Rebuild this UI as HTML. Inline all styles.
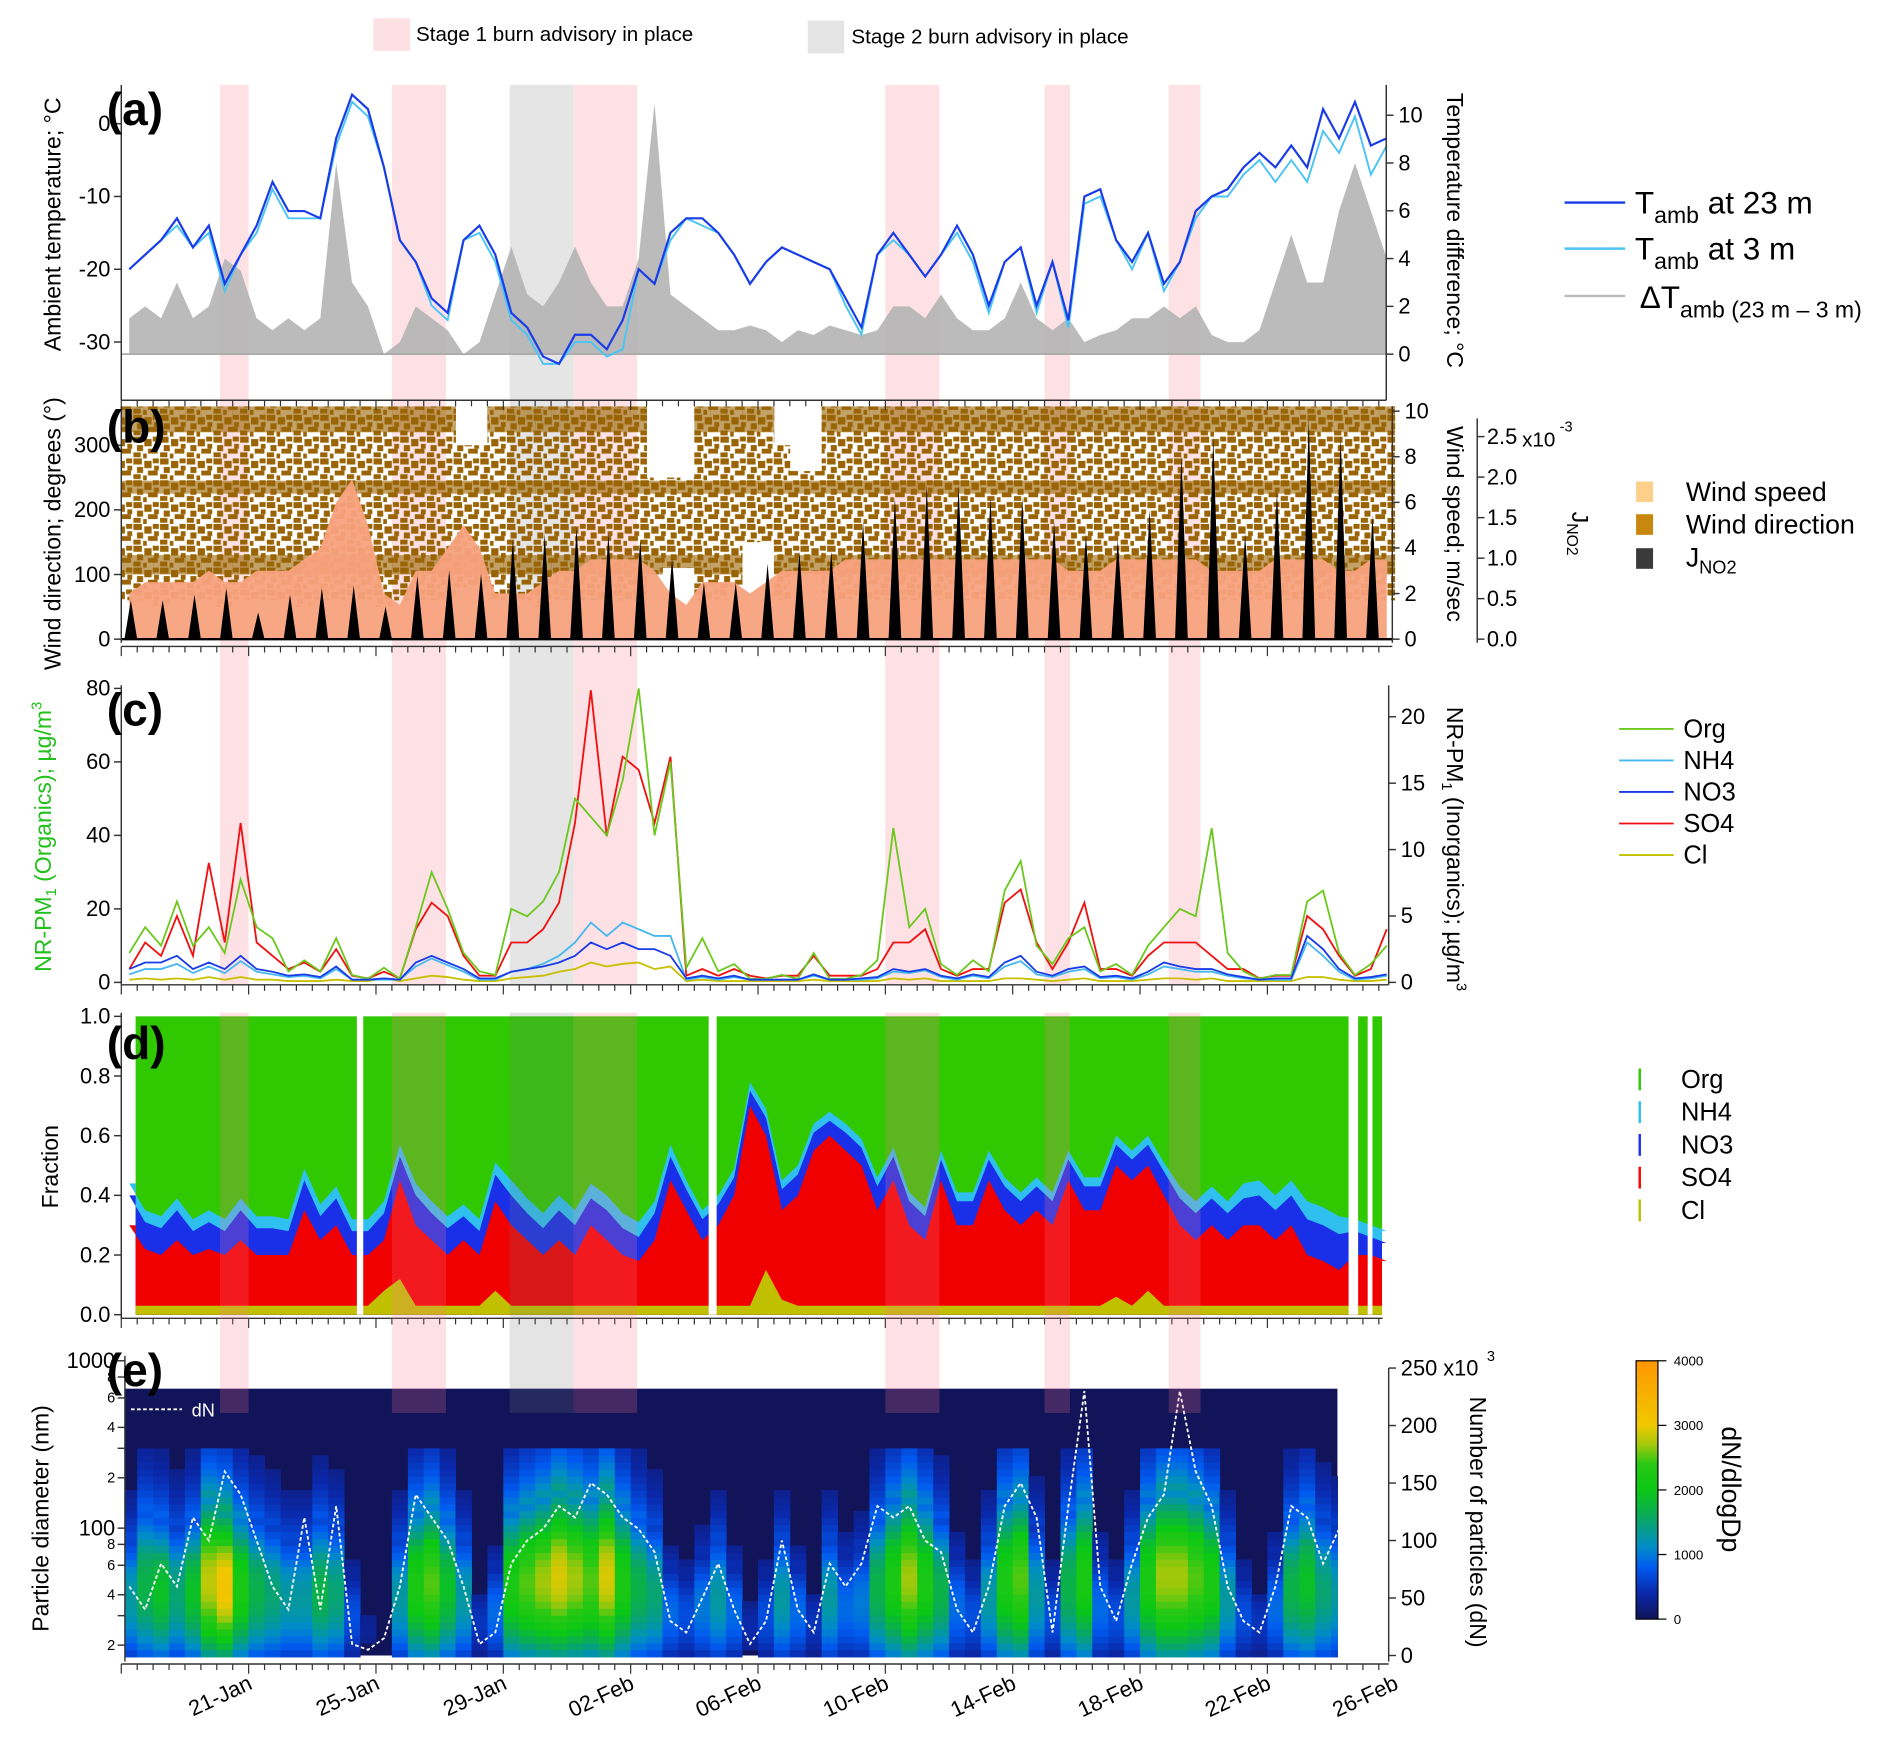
<!DOCTYPE html>
<html><head><meta charset="utf-8"><style>
html,body{margin:0;padding:0;background:#fff;}
svg{display:block;font-family:"Liberation Sans",sans-serif;}
</style></head><body>
<svg id="chart" width="1892" height="1741" viewBox="0 0 1560 1435.5" preserveAspectRatio="none" xmlns="http://www.w3.org/2000/svg">
<defs>
<pattern id="wdpat" width="22" height="18" patternUnits="userSpaceOnUse">
<rect x="0" y="0" width="7" height="5" fill="#9a6404"/>
<rect x="9" y="2" width="6" height="6" fill="#9a6404"/>
<rect x="16" y="0" width="5" height="4" fill="#9a6404"/>
<rect x="3" y="7" width="5" height="5" fill="#9a6404"/>
<rect x="12" y="10" width="8" height="4" fill="#9a6404"/>
<rect x="0" y="13" width="6" height="4" fill="#9a6404"/>
<rect x="17" y="6" width="4" height="4" fill="#9a6404"/>
<rect x="8" y="14" width="3" height="4" fill="#9a6404"/>
</pattern>
</defs>
<g>
<rect x="308" y="15" width="30" height="27" fill="#fde0e3"/>
<text x="343" y="34" font-size="17">Stage 1 burn advisory in place</text>
<rect x="666" y="17" width="30" height="27" fill="#e4e4e4"/>
<text x="702" y="36" font-size="17">Stage 2 burn advisory in place</text>
</g>
<g id="bgBands"></g>
<g id="pa"></g>
<g id="pb"></g>
<g id="pc"></g>
<g id="pd"></g>
<g id="pe"></g>
<g id="axes"></g>
<g font-size="19">
<text transform="translate(50,185) rotate(-90)" text-anchor="middle">Ambient temperature; °C</text>
<text transform="translate(1193,190) rotate(90)" text-anchor="middle">Temperature difference; °C</text>
<text transform="translate(50,440) rotate(-90)" text-anchor="middle">Wind direction; degrees (°)</text>
<text transform="translate(1193,432) rotate(90)" text-anchor="middle">Wind speed; m/sec</text>
<text transform="translate(1296,440) rotate(90)" text-anchor="middle">J<tspan font-size="13" dy="4">NO2</tspan></text>
<text transform="translate(42,690) rotate(-90)" text-anchor="middle" fill="#22c01a">NR-PM<tspan font-size="12" dy="4">1</tspan><tspan dy="-4"> (Organics); µg/m</tspan><tspan font-size="12" dy="-8">3</tspan></text>
<text transform="translate(1193,700) rotate(90)" text-anchor="middle">NR-PM<tspan font-size="12" dy="4">1</tspan><tspan dy="-4"> (Inorganics); µg/m</tspan><tspan font-size="12" dy="-8">3</tspan></text>
<text transform="translate(48,962) rotate(-90)" text-anchor="middle">Fraction</text>
<text transform="translate(40,1252) rotate(-90)" text-anchor="middle">Particle diameter (nm)</text>
<text transform="translate(1212,1255) rotate(90)" text-anchor="middle">Number of particles (dN)</text>
<text transform="translate(1420,1228) rotate(90)" text-anchor="middle" font-size="22">dN/dlogDp</text>
</g>
<g font-size="38" font-weight="bold">
<text x="88" y="103">(a)</text>
<text x="88" y="365">(b)</text>
<text x="88" y="598">(c)</text>
<text x="88" y="873">(d)</text>
<text x="88" y="1143">(e)</text>
</g>
<g font-size="26">
<line x1="1290" y1="167" x2="1340" y2="167" stroke="#1a3ce8" stroke-width="2"/>
<text x="1348" y="176">T<tspan font-size="19" dy="8">amb</tspan><tspan dy="-8"> at 23 m</tspan></text>
<line x1="1290" y1="205" x2="1340" y2="205" stroke="#4cc4f4" stroke-width="2"/>
<text x="1348" y="214">T<tspan font-size="19" dy="8">amb</tspan><tspan dy="-8"> at 3 m</tspan></text>
<line x1="1290" y1="244" x2="1340" y2="244" stroke="#bbb" stroke-width="2"/>
<text x="1352" y="254">ΔT<tspan font-size="19" dy="8">amb (23 m – 3 m)</tspan></text>
</g>
<g font-size="22">
<rect x="1349" y="397" width="14" height="17" fill="#fcd08a"/>
<text x="1390" y="413">Wind speed</text>
<rect x="1349" y="424" width="14" height="17" fill="#c8870e"/>
<text x="1390" y="440">Wind direction</text>
<rect x="1349" y="452" width="14" height="17" fill="#3a3a3a"/>
<text x="1390" y="467">J<tspan font-size="15" dy="6">NO2</tspan></text>
</g>
<g font-size="21">
<line x1="1335" y1="601" x2="1380" y2="601" stroke="#6cc81e" stroke-width="1.5"/><text x="1388" y="608">Org</text>
<line x1="1335" y1="627" x2="1380" y2="627" stroke="#46b8f0" stroke-width="1.5"/><text x="1388" y="634">NH4</text>
<line x1="1335" y1="653" x2="1380" y2="653" stroke="#1a3ce8" stroke-width="1.5"/><text x="1388" y="660">NO3</text>
<line x1="1335" y1="679" x2="1380" y2="679" stroke="#f01010" stroke-width="1.5"/><text x="1388" y="686">SO4</text>
<line x1="1335" y1="705" x2="1380" y2="705" stroke="#c0c000" stroke-width="1.5"/><text x="1388" y="712">Cl</text>
</g>
<g font-size="21">
<rect x="1351" y="881" width="2" height="18" fill="#30c800"/><text x="1386" y="897">Org</text>
<rect x="1351" y="908" width="2" height="18" fill="#30c0f0"/><text x="1386" y="924">NH4</text>
<rect x="1351" y="935" width="2" height="18" fill="#1a30e8"/><text x="1386" y="951">NO3</text>
<rect x="1351" y="962" width="2" height="18" fill="#f00"/><text x="1386" y="978">SO4</text>
<rect x="1351" y="989" width="2" height="18" fill="#c0c000"/><text x="1386" y="1005">Cl</text>
</g>
<g id="cbar"></g>
<g id="fgBands"></g>
</svg>
<script>
// ---- data (time index i -> day i*0.5 since 17-Jan) ----
const stage1Bands=[[3.1,4.0],[8.5,10.2],[14.2,16.2],[24.0,25.7],[29.0,29.8],[32.9,33.9]];
const stage2Bands=[[12.2,14.2]];
const dateLabels=["21-Jan","25-Jan","29-Jan","02-Feb","06-Feb","10-Feb","14-Feb","18-Feb","22-Feb","26-Feb"];
const dateDays=[4,8,12,16,20,24,28,32,36,40];
const T23=[-20,-18,-16,-13,-17,-14,-22,-18,-14,-8,-12,-12,-13,-2,4,2,-6,-16,-19,-24,-26,-16,-14,-18,-26,-28,-32,-33,-29,-29,-31,-27,-20,-22,-15,-13,-13,-15,-18,-22,-19,-17,-18,-19,-20,-24,-28,-18,-15,-18,-21,-18,-14,-18,-25,-19,-17,-25,-19,-27,-10,-9,-16,-19,-15,-22,-19,-12,-10,-9,-6,-4,-6,-3,-6,2,-2,3,-3,-2];
const T3=[-20,-18,-16,-14,-17,-15,-23,-18,-15,-9,-13,-13,-13,-3,3,1,-6,-16,-19,-25,-27,-16,-15,-19,-27,-29,-33,-33,-30,-30,-32,-31,-20,-22,-16,-13,-14,-15,-18,-22,-19,-17,-18,-19,-20,-25,-29,-18,-16,-18,-21,-18,-15,-19,-26,-19,-17,-26,-19,-28,-11,-10,-16,-20,-15,-23,-19,-13,-10,-10,-7,-5,-8,-5,-8,-1,-4,1,-7,-3];
const DT=[1.5,2,1.5,3,1.5,2,4,3.5,1.5,1,1.5,1,1.5,8,3,2,0,0.5,2,1.5,1,0,0.5,2.5,4.5,2.5,2,3,4.5,3,2,2,4,10.5,2.5,2,1.5,1,1,1.2,1,0.5,1,0.8,1.2,1,0.8,1,2,2,1.5,2.5,1.5,1,1,1.5,3,1.5,1,1.5,0.5,0.8,1,1.5,1.5,2,1.5,2,0.8,0.5,0.5,1,3,5,3,3,6,8,6,4];
const WDlo=[60,60,50,60,60,60,50,60,60,60,60,50,60,60,60,60,50,60,60,60,60,80,80,60,60,60,50,60,60,60,60,60,60,100,110,110,60,60,80,150,150,60,100,100,60,60,60,60,60,60,60,60,60,60,60,60,60,60,60,60,60,60,60,60,60,60,60,60,60,60,60,60,60,60,60,60,60,60,60,60];
const WDhi=[360,360,360,360,360,360,360,360,360,360,360,360,360,360,360,360,360,360,360,360,360,300,300,360,360,360,360,360,360,360,360,360,360,250,250,250,360,360,360,360,360,300,260,260,360,360,360,360,360,360,360,360,360,360,360,360,360,360,360,360,360,360,360,360,360,360,360,360,360,360,360,360,360,360,360,360,360,360,360,360];
const WS=[2,2.5,2.5,2.5,2.5,3,2.5,2.5,3,3,3,3.5,4,6,7,5,2,1.5,3,3,4,5,4,2,2,2,2.5,3,3,3.5,3.5,3.5,3.5,3,2,1.5,2.5,2.5,2.5,2,2.5,3,3,3,3,3.5,3.5,3.5,3.5,3.5,3.5,3.5,3.5,3.5,3.5,3.5,3.5,3.5,3.5,3,3,3,3.5,3.5,3.5,3.5,3.5,3.5,3,3,3,3,3.5,3.5,3.5,3.5,3,3,3.5,3.5];
const JNO2=[0.48,0.48,0.55,0.63,0.33,0.55,0.63,0.66,0.4,0.78,0.85,0.81,1.23,1.3,1.38,1.3,1.23,1.0,0.7,0.7,0.93,1.08,1.08,1.45,1.75,1.9,1.9,1.75,1.75,1.45,1.3,1.23,1.6,2.27,2.5,1.3,1.83,2.72,2.5,1.53];
const ORG=[8,15,10,22,10,15,8,28,15,12,3,6,3,12,2,1,4,1,15,30,20,8,3,2,20,18,22,30,50,45,40,55,80,40,60,4,12,3,5,1,1,2,1,8,1,1,2,6,42,15,20,5,2,6,3,25,33,10,5,12,15,3,5,2,10,15,20,18,42,8,3,1,2,2,22,25,8,2,5,10];
const SO4=[1,3,2,5,2,9,3,12,3,2,1,1.5,0.8,2.5,0.5,0.3,0.8,0.3,4,6,5,2,0.5,0.5,3,3,4,6,12,22,11,17,16,12,17,0.5,1,0.5,1,0.5,0.3,0.5,0.5,2,0.5,0.5,0.5,1,3,3,4,1,0.5,1,1,6,7,3,1,3,6,1,1,0.5,2,3,3,3,2,1,1,0.3,0.5,0.5,5,4,2,0.5,1,4];
const NO3=[1,1.5,1.5,2,1,1.5,1,2,1,0.8,0.5,0.6,0.4,1.2,0.2,0.2,0.3,0.2,1.5,2,1.5,1,0.3,0.3,0.8,1,1.2,1.5,2,3,2.5,3,2.5,2.5,2,0.3,0.5,0.3,0.5,0.2,0.2,0.2,0.2,0.6,0.2,0.2,0.3,0.4,1,0.8,1,0.5,0.3,0.6,0.4,1.5,2,0.8,0.5,1,1.2,0.4,0.5,0.3,0.8,1.5,1.2,1,1,0.6,0.4,0.2,0.3,0.3,3.5,2.5,1,0.3,0.4,0.6];
const NH4=[0.6,1,1,1.4,0.7,1.2,0.7,1.6,0.8,0.6,0.4,0.5,0.3,1,0.2,0.2,0.2,0.2,1.2,1.8,1.3,0.8,0.2,0.2,0.8,1,1.4,2,3,4.5,3.5,4.5,4,3.5,3.5,0.2,0.4,0.2,0.4,0.2,0.2,0.2,0.2,0.5,0.2,0.2,0.2,0.3,0.8,0.7,0.9,0.4,0.2,0.5,0.3,1.2,1.6,0.6,0.4,0.8,1,0.3,0.4,0.2,0.6,1.2,1,0.8,0.8,0.5,0.3,0.2,0.2,0.2,3,2,0.8,0.2,0.3,0.5];
const CL=[0.2,0.3,0.2,0.3,0.2,0.4,0.2,0.4,0.2,0.2,0.1,0.1,0.1,0.2,0.1,0.1,0.3,0.1,0.3,0.5,0.4,0.2,0.1,0.1,0.3,0.4,0.5,0.8,1,1.5,1.2,1.4,1.5,1,1.2,0.1,0.2,0.1,0.1,0.1,0.1,0.1,0.1,0.2,0.1,0.1,0.1,0.1,0.3,0.2,0.3,0.1,0.1,0.1,0.1,0.3,0.3,0.2,0.1,0.2,0.3,0.1,0.1,0.1,0.2,0.3,0.3,0.2,0.3,0.1,0.1,0.1,0.1,0.1,0.4,0.4,0.2,0.1,0.1,0.2];
const fCl=[0.03,0.03,0.03,0.03,0.03,0.03,0.03,0.03,0.03,0.03,0.03,0.03,0.03,0.03,0.03,0.03,0.08,0.12,0.03,0.03,0.03,0.03,0.03,0.08,0.03,0.03,0.03,0.03,0.03,0.03,0.03,0.03,0.03,0.03,0.03,0.03,0.03,0.03,0.03,0.03,0.15,0.05,0.03,0.03,0.03,0.03,0.03,0.03,0.03,0.03,0.03,0.03,0.03,0.03,0.03,0.03,0.03,0.03,0.03,0.03,0.03,0.03,0.06,0.03,0.08,0.03,0.03,0.03,0.03,0.03,0.03,0.03,0.03,0.03,0.03,0.03,0.03,0.03,0.03,0.03];
const fSO4=[0.27,0.19,0.17,0.22,0.17,0.19,0.17,0.22,0.17,0.17,0.17,0.32,0.22,0.27,0.17,0.17,0.17,0.33,0.27,0.22,0.17,0.22,0.17,0.30,0.27,0.22,0.17,0.22,0.17,0.27,0.22,0.17,0.15,0.22,0.42,0.32,0.22,0.27,0.37,0.67,0.45,0.30,0.37,0.52,0.57,0.52,0.47,0.32,0.42,0.27,0.22,0.42,0.27,0.27,0.42,0.32,0.27,0.32,0.27,0.42,0.32,0.32,0.44,0.42,0.42,0.37,0.27,0.22,0.27,0.22,0.27,0.27,0.22,0.27,0.17,0.15,0.12,0.17,0.17,0.15];
const fNO3=[0.1,0.09,0.09,0.1,0.08,0.09,0.08,0.1,0.09,0.09,0.08,0.1,0.08,0.09,0.08,0.08,0.09,0.08,0.1,0.09,0.09,0.08,0.08,0.09,0.1,0.09,0.09,0.1,0.1,0.09,0.1,0.09,0.08,0.09,0.08,0.07,0.07,0.07,0.06,0.05,0.06,0.07,0.07,0.06,0.05,0.06,0.06,0.08,0.08,0.08,0.08,0.07,0.08,0.08,0.07,0.08,0.08,0.08,0.08,0.07,0.08,0.08,0.07,0.07,0.07,0.08,0.09,0.09,0.09,0.09,0.09,0.1,0.1,0.1,0.12,0.12,0.12,0.08,0.06,0.06];
const fNH4=[0.04,0.04,0.04,0.04,0.04,0.04,0.04,0.04,0.04,0.04,0.04,0.04,0.04,0.04,0.04,0.04,0.04,0.04,0.04,0.04,0.04,0.04,0.04,0.04,0.05,0.05,0.05,0.05,0.05,0.05,0.05,0.05,0.05,0.04,0.04,0.03,0.03,0.03,0.03,0.03,0.03,0.03,0.03,0.03,0.03,0.03,0.03,0.03,0.03,0.03,0.03,0.03,0.03,0.03,0.03,0.03,0.03,0.03,0.03,0.03,0.03,0.03,0.03,0.03,0.03,0.03,0.04,0.04,0.04,0.04,0.05,0.05,0.05,0.05,0.06,0.06,0.06,0.04,0.04,0.04];
const dGaps=[[7.4,7.6],[18.45,18.7],[38.55,38.85],[39.15,39.3]];
const sizeIntensity=[1300,1700,1900,1500,1900,2800,3100,2200,1700,1500,1300,1300,1700,1500,700,300,200,1300,2200,2500,1900,1300,500,900,2200,2500,2700,2900,2700,2500,2900,2200,1700,1500,900,700,1000,1300,900,400,700,1300,900,500,1300,900,1000,1700,2200,2700,2200,1700,900,700,1300,2200,2500,1300,700,1700,2200,900,700,1300,2200,2700,2700,2500,2200,1300,700,500,900,1700,1900,1500,1300];
const sizeTop=[90,130,110,100,110,150,130,120,110,100,90,90,110,100,55,40,35,90,130,140,120,90,45,60,130,140,150,170,160,150,170,140,120,100,60,55,70,90,60,40,55,90,60,45,90,70,80,120,150,160,140,110,70,55,90,150,160,100,55,130,160,70,55,90,150,170,170,160,140,90,55,45,70,120,140,110,100];
const dN=[60,40,80,60,120,100,160,140,100,60,40,120,40,130,10,5,15,60,140,120,100,60,10,20,80,100,110,130,120,150,140,120,110,90,30,20,50,80,40,10,30,100,40,20,80,60,80,130,120,130,100,90,40,20,60,130,150,120,20,130,230,60,30,80,120,140,230,160,130,60,30,20,60,130,120,80,110];
const tempTicks=[0,-10,-20,-30], dtTicks=[0,2,4,6,8,10], dirTicks=[0,100,200,300], wsTicks=[0,2,4,6,8,10], jTicks=[0,0.5,1,1.5,2,2.5];
const orgTicks=[0,20,40,60,80], inorgTicks=[0,5,10,15,20], fracTicks=[0,0.2,0.4,0.6,0.8,1.0], nTicks=[0,50,100,150,200,250], cbTicks=[0,1000,2000,3000,4000];

// ---- scales ----
const NS="http://www.w3.org/2000/svg";
const X=t=>100+26.25*t;
const tOf=i=>i*0.5+0.25;
const yT=v=>102-6*v, yD=v=>292-19.7*v;
const yDir=v=>527-0.533*v, yWS=v=>527-18.8*v, yJ=v=>527-66.8*v;
const yOrg=v=>810-3.03*v, yIn=v=>810-10.95*v;
const yF=v=>1084-246*v;
const yDp=d=>1260-138*Math.log10(d/100), yN=v=>1365-0.948*v;
function mk(tag,attrs,parent){const e=document.createElementNS(NS,tag);for(const k in attrs)e.setAttribute(k,attrs[k]);parent.appendChild(e);return e;}
const G=id=>document.getElementById(id);
function pts(arr,yf){return arr.map((v,i)=>X(tOf(i)).toFixed(1)+","+yf(v).toFixed(1)).join(" ");}

// bands
[["bgBands",1],["fgBands",0]].forEach(([gid,back])=>{
  const g=G(gid);
  stage1Bands.forEach(b=>{
    const r=mk("rect",{x:X(b[0]),width:X(b[1])-X(b[0]),y:back?70:835,height:back?742:330,fill:back?"#fde1e4":"rgba(250,120,140,0.22)"},g);
    
    
  });
  stage2Bands.forEach(b=>{
    const r=mk("rect",{x:X(b[0]),width:X(b[1])-X(b[0]),y:back?70:835,height:back?742:330,fill:back?"#e5e5e5":"rgba(120,120,120,0.2)"},g);
    
    
  });
});

// panel a
{const g=G("pa");
 const a=mk("polygon",{points:X(tOf(0))+","+yD(0)+" "+pts(DT,yD)+" "+X(tOf(79))+","+yD(0),fill:"#b4b4b4",opacity:"0.9"},g);
 
 
 const l0=mk("line",{x1:100,x2:1143,y1:yD(0),y2:yD(0),stroke:"#aaa","stroke-width":1.5},g);
 
 
 const l3=mk("polyline",{points:pts(T3,yT),fill:"none",stroke:"#4cc4f4","stroke-width":1.6},g);
 
 
 const l23=mk("polyline",{points:pts(T23,yT),fill:"none",stroke:"#1a3ce8","stroke-width":1.8},g);
 
 }

// panel b
{const g=G("pb");
 WDlo.forEach((lo,i)=>{
  const x0=X(i*0.5),w=26.25*0.5+0.3;
  const r=mk("rect",{x:x0,width:w,y:yDir(WDhi[i]),height:yDir(lo)-yDir(WDhi[i]),fill:"url(#wdpat)"},g);
  
  
  [[320,360],[225,245],[100,130]].forEach(d=>{
    const a=Math.max(d[0],lo),b=Math.min(d[1],WDhi[i]);
    if(b<=a)return;
    const s=mk("rect",{x:x0,width:w,y:yDir(b),height:yDir(a)-yDir(b),fill:"#9a6404",opacity:"0.6"},g);
    
    
  });});
 const ws=mk("polygon",{points:X(tOf(0))+","+yWS(0)+" "+pts(WS,yWS)+" "+X(tOf(79))+","+yWS(0),fill:"#f8a27e",opacity:"0.95"},g);
 
 
 JNO2.forEach((v,k)=>{const t=k+0.3;const p=mk("polygon",{points:X(t-0.2)+","+yJ(0)+" "+X(t)+","+yJ(v)+" "+X(t+0.2)+","+yJ(0),fill:"#000"},g);
  
  });
 const bl=mk("line",{x1:100,x2:1148,y1:527,y2:527,stroke:"#000","stroke-width":2},g);
 
 }

// panel c
{const g=G("pc");
 [[CL,"#c8c000",yIn,"cl-line"],[SO4,"#f01010",yIn,"so4-line"],[ORG,"#6cc81e",yOrg,"org-line"],[NH4,"#46b8f0",yIn,"nh4-line"],[NO3,"#1a3ce8",yIn,"no3-line"]].forEach(s=>{
  const l=mk("polyline",{points:pts(s[0],s[2]),fill:"none",stroke:s[1],"stroke-width":1.5},g);
  
  });}

// panel d
{const g=G("pd");
 const bg=mk("rect",{x:X(0.45),y:yF(1),width:X(39.6)-X(0.45),height:yF(0)-yF(1),fill:"#30c800"},g);
 
 
 const layers=[[fNH4,"#30c0f0","nh4-fraction-area"],[fNO3,"#1a30e8","no3-fraction-area"],[fSO4,"#f00000","so4-fraction-area"],[fCl,"#c0c000","cl-fraction-area"]];
 const cum=fCl.map((c,i)=>[fCl[i],fCl[i]+fSO4[i],fCl[i]+fSO4[i]+fNO3[i],fCl[i]+fSO4[i]+fNO3[i]+fNH4[i]]);
 [3,2,1,0].forEach((lvl,li)=>{
  const top=cum.map(c=>c[lvl]);
  let p=X(0.45)+","+yF(0)+" "+X(0.45)+","+yF(top[0])+" "+pts(top,yF)+" "+X(39.6)+","+yF(top[79])+" "+X(39.6)+","+yF(0);
  const a=mk("polygon",{points:p,fill:layers[li][1]},g);
  
  });
 dGaps.forEach(gp=>{const r=mk("rect",{x:X(gp[0]),width:X(gp[1])-X(gp[0]),y:yF(1)-1,height:yF(0)-yF(1)+1,fill:"#fff"},g);
  
  });}

// panel e
const cmapStops=[[0,[18,20,90]],[0.1,[10,40,170]],[0.2,[0,90,240]],[0.28,[0,140,200]],[0.4,[10,170,90]],[0.5,[10,200,20]],[0.6,[40,200,20]],[0.68,[170,200,10]],[0.75,[240,200,0]],[1,[255,150,0]]];
function cmap(v){const f=Math.max(0,Math.min(1,v/4000));for(let k=1;k<cmapStops.length;k++){if(f<=cmapStops[k][0]){const a=cmapStops[k-1],b=cmapStops[k];const u=(f-a[0])/(b[0]-a[0]);return "rgb("+a[1].map((c,j)=>Math.round(c+(b[1][j]-c)*u)).join(",")+")";}}return "rgb(255,150,0)";}
{const g=G("pe");
 const nb=mk("rect",{x:103,y:1145,width:X(38.2)-103,height:1365-1145,fill:"#12145a"},g);
 
 
 const nBins=30,dMin=17,dMax=300;
 sizeIntensity.forEach((I,i)=>{
  const top=sizeTop[i];
  for(let b=0;b<nBins;b++){
   const d0=dMin*Math.pow(dMax/dMin,b/nBins),d1=dMin*Math.pow(dMax/dMin,(b+1)/nBins);
   const dm=Math.sqrt(d0*d1);
   const u=Math.log(dm/dMin)/Math.log(top/dMin);
   let v;
   if(u<1){v=I*(0.45+0.55*Math.sin(Math.PI*Math.min(u*1.3,1)*0.8))*(u>0.75?(1-(u-0.75)*2):1);}
   else{v=I*0.5*Math.exp(-(u-1)*2.5);}
   if(v<250)continue;
   const x0=X(Math.max(i*0.5,0.12)),x1=X(Math.min(i*0.5+0.5,38.2));
   const c=mk("rect",{x:x0.toFixed(1),width:(x1-x0+0.4).toFixed(1),y:yDp(d1).toFixed(1),height:(yDp(d0)-yDp(d1)+0.4).toFixed(1),fill:cmap(v)},g);
   
   
  }});
 const nl=mk("polyline",{points:dN.map((v,i)=>X(tOf(i)).toFixed(1)+","+yN(v).toFixed(1)).join(" "),fill:"none",stroke:"#fff","stroke-width":1.5,"stroke-dasharray":"3,2"},g);
 
 
 const ll=mk("line",{x1:108,x2:150,y1:1162,y2:1162,stroke:"#fff","stroke-width":1.5,"stroke-dasharray":"3,2"},g);
 
 
 const lt=mk("text",{x:158,y:1168,fill:"#fff","font-size":15},g);lt.textContent="dN";
 
 }

// colorbar
{const g=G("cbar");
 const defs=mk("defs",{},g);
 const lg=mk("linearGradient",{id:"cbg",x1:0,y1:1,x2:0,y2:0},defs);
 cmapStops.forEach(s=>mk("stop",{offset:s[0],"stop-color":"rgb("+s[1].join(",")+")"},lg));
 const r=mk("rect",{x:1349,y:1122,width:18,height:213,fill:"url(#cbg)",stroke:"#000","stroke-width":1},g);
 
 
 cbTicks.forEach(v=>{const y=1335-213*v/4000;
  mk("line",{x1:1367,x2:1374,y1:y,y2:y,stroke:"#000"},g);
  const t=mk("text",{x:1380,y:y+4,"font-size":11},g);t.textContent=v;
  
  });}

// axes
{const g=G("axes");
 function L(x1,y1,x2,y2,w){return mk("line",{x1,y1,x2,y2,stroke:"#333","stroke-width":w||1.2},g);}
 function T(x,y,s,anchor,fs){const t=mk("text",{x,y,"text-anchor":anchor||"end","font-size":fs||18},g);t.textContent=s;return t;}
 [[100,70,330],[1143,70,330],[100,335,530],[1148,335,530],[1218,345,530],[100,565,812],[1145,565,812],[100,835,1087],[103,1118,1370],[1145,1128,1370]].forEach(a=>{const l=L(a[0],a[1],a[0],a[2]);});
 [[330,1143],[533,1148],[812,1145],[1087,1140],[1372,1145]].forEach(b=>{
  const l=L(100,b[0],b[1],b[0]);
  for(let t=0;t<=40;t+=0.5){const x=X(t);if(x>b[1]+1)break;L(x,b[0],x,b[0]+(t%4===0?8:5),1);}
 });
 function yt(ticks,yf,x,side,fs,name){ticks.forEach(v=>{const y=yf(v);L(x,y,x+(side<0?-6:6),y);const t=T(x+(side<0?-9:10),y+6,String(v),side<0?"end":"start",fs);});}
 yt(tempTicks,yT,100,-1,18,"temp-tick-label");
 yt(dtTicks,yD,1143,1,18,"dt-tick-label");
 yt(dirTicks,yDir,100,-1,18,"dir-tick-label");
 yt(wsTicks,yWS,1148,1,18,"ws-tick-label");
 jTicks.forEach(v=>{const y=yJ(v);L(1218,y,1224,y);const t=T(1226,y+6,v.toFixed(1),"start",18);});
 const jx=T(1255,368,"x10","start",17);
 const jx2=T(1286,356,"-3","start",12);
 yt(orgTicks,yOrg,100,-1,18,"org-tick-label");
 yt(inorgTicks,yIn,1145,1,18,"inorg-tick-label");
 fracTicks.forEach(v=>{const y=yF(v);L(100,y,94,y);const t=T(91,y+6,v.toFixed(1),"end",18);});
 yt(nTicks,yN,1145,1,18,"dn-tick-label");
 const nx=T(1190,1134,"x10","start",18);
 const nx2=T(1226,1122,"3","start",12);
 [[1000,"1000",18],[800,"8",12],[600,"6",12],[400,"4",12],[300,"",0],[200,"2",12],[100,"100",18],[80,"8",12],[60,"6",12],[40,"4",12],[30,"",0],[20,"2",12]].forEach(d=>{const y=yDp(d[0]);L(103,y,97,y);if(d[1]){const t=T(95,y+(d[2]>12?6:4),d[1],"end",d[2]);}});
 dateLabels.forEach((s,k)=>{const x=X(dateDays[k]);const t=mk("text",{transform:"translate("+(x+4)+",1392) rotate(-25)","text-anchor":"end","font-size":18},g);t.textContent=s;
  
  });}
</script>
</body></html>
